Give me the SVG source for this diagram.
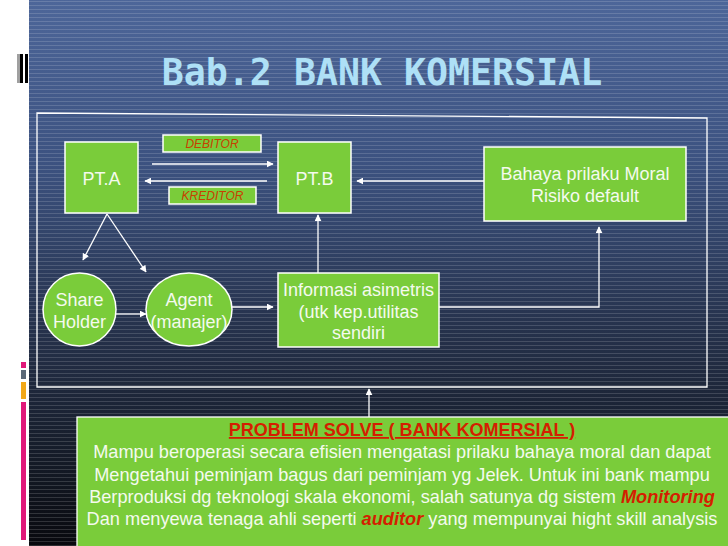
<svg xmlns="http://www.w3.org/2000/svg" width="728" height="546" viewBox="0 0 728 546">
<defs>
<linearGradient id="bg" x1="0" y1="0" x2="0" y2="1">
<stop offset="0" stop-color="#4d6699"/>
<stop offset="0.3" stop-color="#3c5280"/>
<stop offset="0.6" stop-color="#26324c"/>
<stop offset="0.85" stop-color="#141a26"/>
<stop offset="1" stop-color="#08090e"/>
</linearGradient>
<pattern id="scan" width="8" height="4" patternUnits="userSpaceOnUse">
<rect x="0" y="1" width="8" height="1" fill="#ffffff" fill-opacity="0.15"/>
</pattern>
<marker id="ah" viewBox="0 0 10 10" refX="9" refY="5" markerWidth="7" markerHeight="7" markerUnits="userSpaceOnUse" orient="auto">
<path d="M0,0 L10,5 L0,10 Z" fill="#ffffff"/>
</marker>
<style>
.node{fill:#7acc3a;stroke:#ffffff;stroke-width:1.5}
.lbl{fill:#f4faee;font-family:"Liberation Sans",Arial,sans-serif;font-size:18px;text-anchor:middle}
.tag{fill:#c84000;font-family:"Liberation Sans",Arial,sans-serif;font-size:12px;font-style:italic;text-anchor:middle}
.conn{stroke:#ffffff;stroke-width:1.3;fill:none;marker-end:url(#ah)}
.body{fill:#f4faee;font-family:"Liberation Sans",Arial,sans-serif;font-size:18.2px;text-anchor:middle}
.red{fill:#d41e00;font-weight:bold;font-style:italic}
</style>
</defs>
<rect x="0" y="0" width="728" height="546" fill="url(#bg)"/>
<rect x="29" y="0" width="699" height="546" fill="url(#scan)"/>
<rect x="0" y="0" width="29" height="546" fill="#ffffff"/>
<g id="sidebar">
<rect x="17" y="54" width="3" height="29" fill="#a0a0a0"/>
<rect x="20" y="54" width="3" height="29" fill="#000000"/>
<rect x="25" y="54" width="3" height="29" fill="#000000"/>
<rect x="21" y="362" width="5" height="6" fill="#e0187a"/>
<rect x="21" y="370" width="5" height="9" fill="#5a6878"/>
<rect x="21" y="382" width="5" height="17" fill="#f2a818"/>
<rect x="21" y="402" width="5" height="138" fill="#e0187a"/>
</g>
<text x="382" y="85" fill="#aee0f6" font-family="'DejaVu Sans Mono',monospace" font-weight="bold" font-size="36.6" text-anchor="middle">Bab.2 BANK KOMERSIAL</text>
<path d="M37,113 L707,118 L707,387 L37,387 Z" fill="none" stroke="#ffffff" stroke-width="1.3"/>
<g id="connectors">
<line class="conn" x1="152" y1="164" x2="273" y2="164"/>
<line class="conn" x1="267" y1="181" x2="145" y2="181"/>
<line class="conn" x1="484" y1="181" x2="357" y2="181"/>
<line class="conn" x1="107" y1="214" x2="83" y2="260"/>
<line class="conn" x1="107" y1="214" x2="146" y2="272"/>
<line class="conn" x1="116" y1="314" x2="146" y2="314"/>
<line class="conn" x1="232" y1="307" x2="273" y2="307"/>
<line class="conn" x1="318" y1="273" x2="318" y2="215"/>
<polyline class="conn" points="439,307 599,307 599,227"/>
<line class="conn" x1="369" y1="417" x2="369" y2="389"/>
</g>
<g id="debitor"><rect class="node" x="163" y="135" width="98" height="17"/><text class="tag" x="212" y="148">DEBITOR</text></g>
<g id="kreditor"><rect class="node" x="169" y="187" width="87" height="17"/><text class="tag" x="212.5" y="200">KREDITOR</text></g>
<g id="pta"><rect class="node" x="65" y="142" width="73" height="71"/><text class="lbl" x="101.5" y="185">PT.A</text></g>
<g id="ptb"><rect class="node" x="278" y="142" width="73" height="71"/><text class="lbl" x="314.5" y="185">PT.B</text></g>
<g id="bahaya"><rect class="node" x="484" y="147" width="202" height="74"/><text class="lbl" x="585" y="180">Bahaya prilaku Moral</text><text class="lbl" x="585" y="202">Risiko default</text></g>
<g id="shareholder"><ellipse class="node" cx="79.5" cy="309.5" rx="36.5" ry="36.5"/><text class="lbl" x="79.5" y="306">Share</text><text class="lbl" x="79.5" y="328">Holder</text></g>
<g id="agent"><ellipse class="node" cx="189" cy="309.5" rx="43" ry="36.5"/><text class="lbl" x="189" y="306">Agent</text><text class="lbl" x="189" y="328">(manajer)</text></g>
<g id="informasi"><rect class="node" x="278" y="273" width="161" height="74"/><text class="lbl" x="358.5" y="296">Informasi asimetris</text><text class="lbl" x="358.5" y="318">(utk kep.utilitas</text><text class="lbl" x="358.5" y="339">sendiri</text></g>
<g id="problem">
<rect x="77" y="417" width="655" height="135" fill="#7acc3a" stroke="#ffffff" stroke-width="1.3"/>
<text x="402" y="436" fill="#d41e00" font-family="'Liberation Sans',Arial,sans-serif" font-size="18px" font-weight="bold" text-anchor="middle" text-decoration="underline">PROBLEM SOLVE ( BANK KOMERSIAL )</text>
<text class="body" x="402" y="458">Mampu beroperasi secara efisien mengatasi prilaku bahaya moral dan dapat</text>
<text class="body" x="402" y="481">Mengetahui peminjam bagus dari peminjam yg Jelek. Untuk ini bank mampu</text>
<text class="body" x="402" y="503">Berproduksi dg teknologi skala ekonomi, salah satunya dg sistem <tspan class="red">Monitoring</tspan></text>
<text class="body" x="402" y="525">Dan menyewa tenaga ahli seperti <tspan class="red">auditor</tspan> yang mempunyai hight skill analysis</text>
</g>
</svg>
